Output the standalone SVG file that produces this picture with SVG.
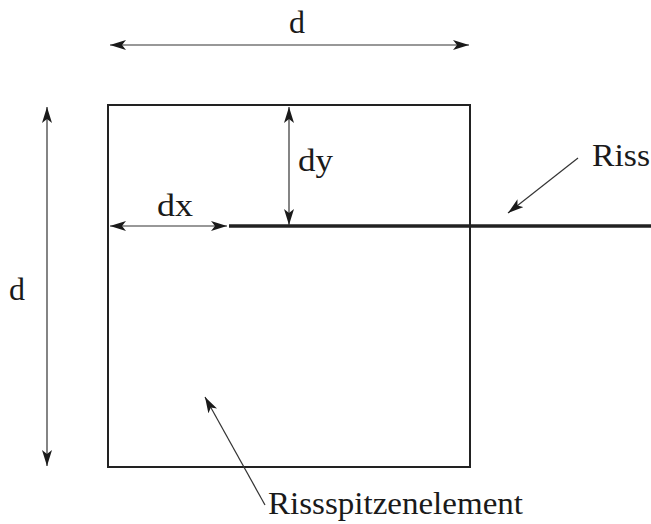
<svg xmlns="http://www.w3.org/2000/svg" width="651" height="524" viewBox="0 0 651 524">
<style>
.t{font-family:"Liberation Serif","Times New Roman",serif;font-size:32px;fill:#1a1a1a}
.dim{stroke:#333;stroke-width:1.2;fill:none}
</style>
<defs>
<marker id="ah" markerUnits="userSpaceOnUse" markerWidth="18" markerHeight="10" refX="16" refY="5" orient="auto-start-reverse">
<path d="M0,0 L16,5 L0,10 L4,5 Z" fill="#1a1a1a"/>
</marker>
</defs>
<rect width="651" height="524" fill="#fff"/>
<g id="element">
<rect x="108" y="105" width="362" height="362" fill="none" stroke="#222" stroke-width="2"/>
</g>
<g id="crack">
<line x1="229" y1="226" x2="651" y2="226" stroke="#222" stroke-width="3.5"/>
</g>
<g id="connectors">
<line class="dim" x1="110" y1="45" x2="469" y2="45" marker-start="url(#ah)" marker-end="url(#ah)"/>
<line class="dim" x1="47" y1="107" x2="47" y2="466" marker-start="url(#ah)" marker-end="url(#ah)"/>
<line class="dim" x1="110" y1="226" x2="227" y2="226" marker-start="url(#ah)" marker-end="url(#ah)"/>
<line class="dim" x1="289" y1="107" x2="289" y2="225" marker-start="url(#ah)" marker-end="url(#ah)"/>
<line class="dim" x1="578" y1="158" x2="508" y2="213" marker-end="url(#ah)"/>
<line class="dim" x1="265" y1="505" x2="205" y2="397" marker-end="url(#ah)"/>
</g>
<g id="labels">
<text class="t" x="297" y="33" text-anchor="middle">d</text>
<text class="t" x="17" y="300" text-anchor="middle">d</text>
<text class="t" x="157" y="216" textLength="36" lengthAdjust="spacingAndGlyphs">dx</text>
<text class="t" x="298" y="171" textLength="35" lengthAdjust="spacingAndGlyphs">dy</text>
<text class="t" x="592" y="166" textLength="58" lengthAdjust="spacingAndGlyphs">Riss</text>
<text class="t" x="268" y="514" textLength="255" lengthAdjust="spacingAndGlyphs">Rissspitzenelement</text>
</g>
</svg>
